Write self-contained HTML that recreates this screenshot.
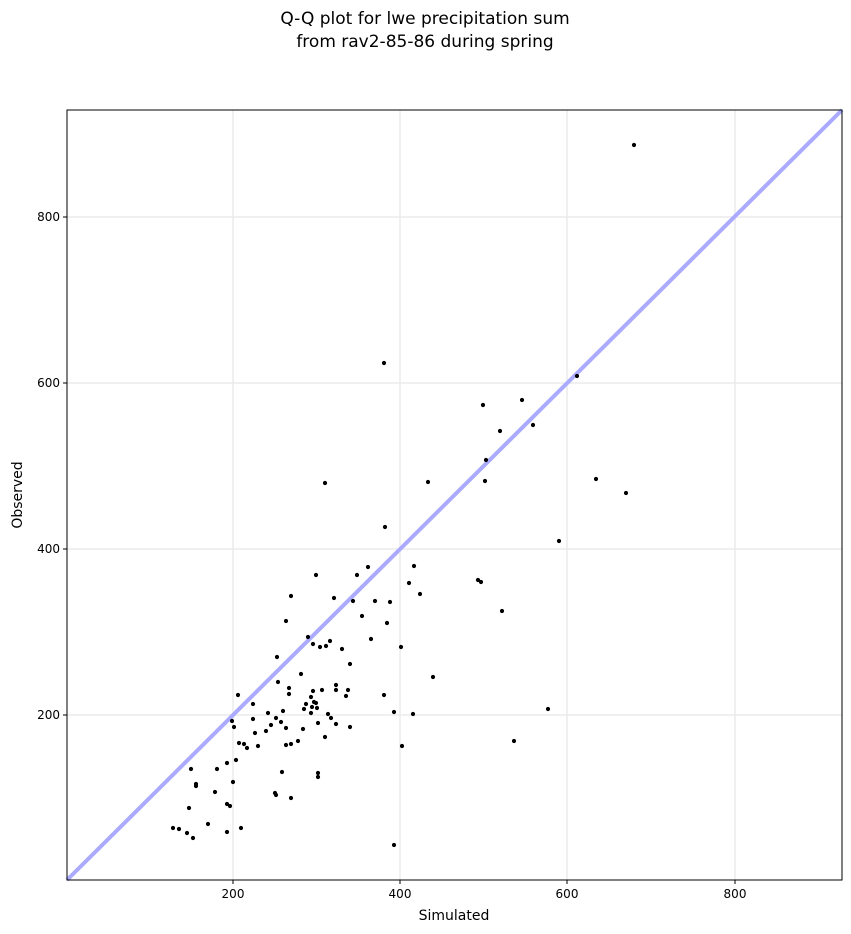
<!DOCTYPE html>
<html><head><style>body{margin:0;background:#fff}svg{display:block;font-family:"DejaVu Sans","Liberation Sans",sans-serif}</style></head><body>
<svg width="851" height="934" xmlns="http://www.w3.org/2000/svg">
<text x="425" y="24" text-anchor="middle" font-size="17">Q-Q plot for lwe precipitation sum</text>
<text x="425" y="47" text-anchor="middle" font-size="17">from rav2-85-86 during spring</text>
<g stroke="#ebebeb" stroke-width="1.5">
<line x1="233" y1="110" x2="233" y2="880"/><line x1="400" y1="110" x2="400" y2="880"/><line x1="567" y1="110" x2="567" y2="880"/><line x1="735" y1="110" x2="735" y2="880"/>
<line x1="67" y1="217" x2="842" y2="217"/><line x1="67" y1="383" x2="842" y2="383"/><line x1="67" y1="549" x2="842" y2="549"/><line x1="67" y1="715" x2="842" y2="715"/>
</g>
<line x1="67" y1="880" x2="842" y2="110" stroke="#aaaaff" stroke-width="4"/>
<g fill="#000">
<circle cx="634" cy="145" r="2.1"/><circle cx="384" cy="363" r="2.1"/><circle cx="577" cy="376" r="2.1"/><circle cx="483" cy="405" r="2.1"/><circle cx="522" cy="400" r="2.1"/><circle cx="500" cy="431" r="2.1"/><circle cx="533" cy="425" r="2.1"/><circle cx="486" cy="460" r="2.1"/><circle cx="325" cy="483" r="2.1"/><circle cx="428" cy="482" r="2.1"/><circle cx="485" cy="481" r="2.1"/><circle cx="596" cy="479" r="2.1"/><circle cx="626" cy="493" r="2.1"/><circle cx="385" cy="527" r="2.1"/><circle cx="559" cy="541" r="2.1"/><circle cx="478" cy="580" r="2.1"/><circle cx="481" cy="582" r="2.1"/><circle cx="414" cy="566" r="2.1"/><circle cx="409" cy="583" r="2.1"/><circle cx="420" cy="594" r="2.1"/><circle cx="502" cy="611" r="2.1"/><circle cx="316" cy="575" r="2.1"/><circle cx="357" cy="575" r="2.1"/><circle cx="368" cy="567" r="2.1"/><circle cx="291" cy="596" r="2.1"/><circle cx="334" cy="598" r="2.1"/><circle cx="353" cy="601" r="2.1"/><circle cx="375" cy="601" r="2.1"/><circle cx="390" cy="602" r="2.1"/><circle cx="362" cy="616" r="2.1"/><circle cx="286" cy="621" r="2.1"/><circle cx="387" cy="623" r="2.1"/><circle cx="308" cy="637" r="2.1"/><circle cx="313" cy="644" r="2.1"/><circle cx="371" cy="639" r="2.1"/><circle cx="330" cy="641" r="2.1"/><circle cx="326" cy="646" r="2.1"/><circle cx="342" cy="649" r="2.1"/><circle cx="320" cy="647" r="2.1"/><circle cx="401" cy="647" r="2.1"/><circle cx="350" cy="664" r="2.1"/><circle cx="277" cy="657" r="2.1"/><circle cx="433" cy="677" r="2.1"/><circle cx="301" cy="674" r="2.1"/><circle cx="278" cy="682" r="2.1"/><circle cx="289" cy="688" r="2.1"/><circle cx="336" cy="685" r="2.1"/><circle cx="336" cy="690" r="2.1"/><circle cx="348" cy="690" r="2.1"/><circle cx="322" cy="690" r="2.1"/><circle cx="238" cy="695" r="2.1"/><circle cx="289" cy="694" r="2.1"/><circle cx="313" cy="691" r="2.1"/><circle cx="314" cy="702" r="2.1"/><circle cx="306" cy="704" r="2.1"/><circle cx="304" cy="709" r="2.1"/><circle cx="311" cy="697" r="2.1"/><circle cx="316" cy="703" r="2.1"/><circle cx="384" cy="695" r="2.1"/><circle cx="346" cy="696" r="2.1"/><circle cx="253" cy="704" r="2.1"/><circle cx="312" cy="707" r="2.1"/><circle cx="311" cy="713" r="2.1"/><circle cx="268" cy="713" r="2.1"/><circle cx="394" cy="712" r="2.1"/><circle cx="413" cy="714" r="2.1"/><circle cx="328" cy="714" r="2.1"/><circle cx="276" cy="718" r="2.1"/><circle cx="253" cy="719" r="2.1"/><circle cx="281" cy="722" r="2.1"/><circle cx="336" cy="724" r="2.1"/><circle cx="331" cy="718" r="2.1"/><circle cx="318" cy="723" r="2.1"/><circle cx="271" cy="725" r="2.1"/><circle cx="283" cy="711" r="2.1"/><circle cx="232" cy="721" r="2.1"/><circle cx="317" cy="708" r="2.1"/><circle cx="234" cy="727" r="2.1"/><circle cx="286" cy="728" r="2.1"/><circle cx="350" cy="727" r="2.1"/><circle cx="255" cy="733" r="2.1"/><circle cx="266" cy="731" r="2.1"/><circle cx="303" cy="729" r="2.1"/><circle cx="298" cy="741" r="2.1"/><circle cx="325" cy="737" r="2.1"/><circle cx="548" cy="709" r="2.1"/><circle cx="514" cy="741" r="2.1"/><circle cx="239" cy="743" r="2.1"/><circle cx="244" cy="744" r="2.1"/><circle cx="247" cy="748" r="2.1"/><circle cx="258" cy="746" r="2.1"/><circle cx="286" cy="745" r="2.1"/><circle cx="291" cy="744" r="2.1"/><circle cx="402" cy="746" r="2.1"/><circle cx="236" cy="760" r="2.1"/><circle cx="227" cy="763" r="2.1"/><circle cx="282" cy="772" r="2.1"/><circle cx="191" cy="769" r="2.1"/><circle cx="217" cy="769" r="2.1"/><circle cx="318" cy="773" r="2.1"/><circle cx="318" cy="777" r="2.1"/><circle cx="233" cy="782" r="2.1"/><circle cx="196" cy="784" r="2.1"/><circle cx="196" cy="786" r="2.1"/><circle cx="215" cy="792" r="2.1"/><circle cx="276" cy="795" r="2.1"/><circle cx="275" cy="793" r="2.1"/><circle cx="227" cy="804" r="2.1"/><circle cx="230" cy="806" r="2.1"/><circle cx="291" cy="798" r="2.1"/><circle cx="189" cy="808" r="2.1"/><circle cx="208" cy="824" r="2.1"/><circle cx="227" cy="832" r="2.1"/><circle cx="241" cy="828" r="2.1"/><circle cx="173" cy="828" r="2.1"/><circle cx="179" cy="829" r="2.1"/><circle cx="187" cy="833" r="2.1"/><circle cx="193" cy="838" r="2.1"/><circle cx="394" cy="845" r="2.1"/>
</g>
<rect x="67" y="110" width="775" height="770" fill="none" stroke="#000" stroke-width="1"/>
<g stroke="#000"><line x1="233" y1="880" x2="233" y2="884"/><line x1="400" y1="880" x2="400" y2="884"/><line x1="567" y1="880" x2="567" y2="884"/><line x1="735" y1="880" x2="735" y2="884"/>
<line x1="63" y1="217" x2="67" y2="217"/><line x1="63" y1="383" x2="67" y2="383"/><line x1="63" y1="549" x2="67" y2="549"/><line x1="63" y1="715" x2="67" y2="715"/></g>
<g font-size="12" text-anchor="middle"><text x="233" y="898">200</text><text x="400" y="898">400</text><text x="567" y="898">600</text><text x="735" y="898">800</text></g>
<g font-size="12" text-anchor="end"><text x="60" y="221">800</text><text x="60" y="387">600</text><text x="60" y="553">400</text><text x="60" y="719">200</text></g>
<text x="454" y="920" text-anchor="middle" font-size="14">Simulated</text>
<text transform="translate(22,495) rotate(-90)" text-anchor="middle" font-size="14">Observed</text>
</svg>
</body></html>
